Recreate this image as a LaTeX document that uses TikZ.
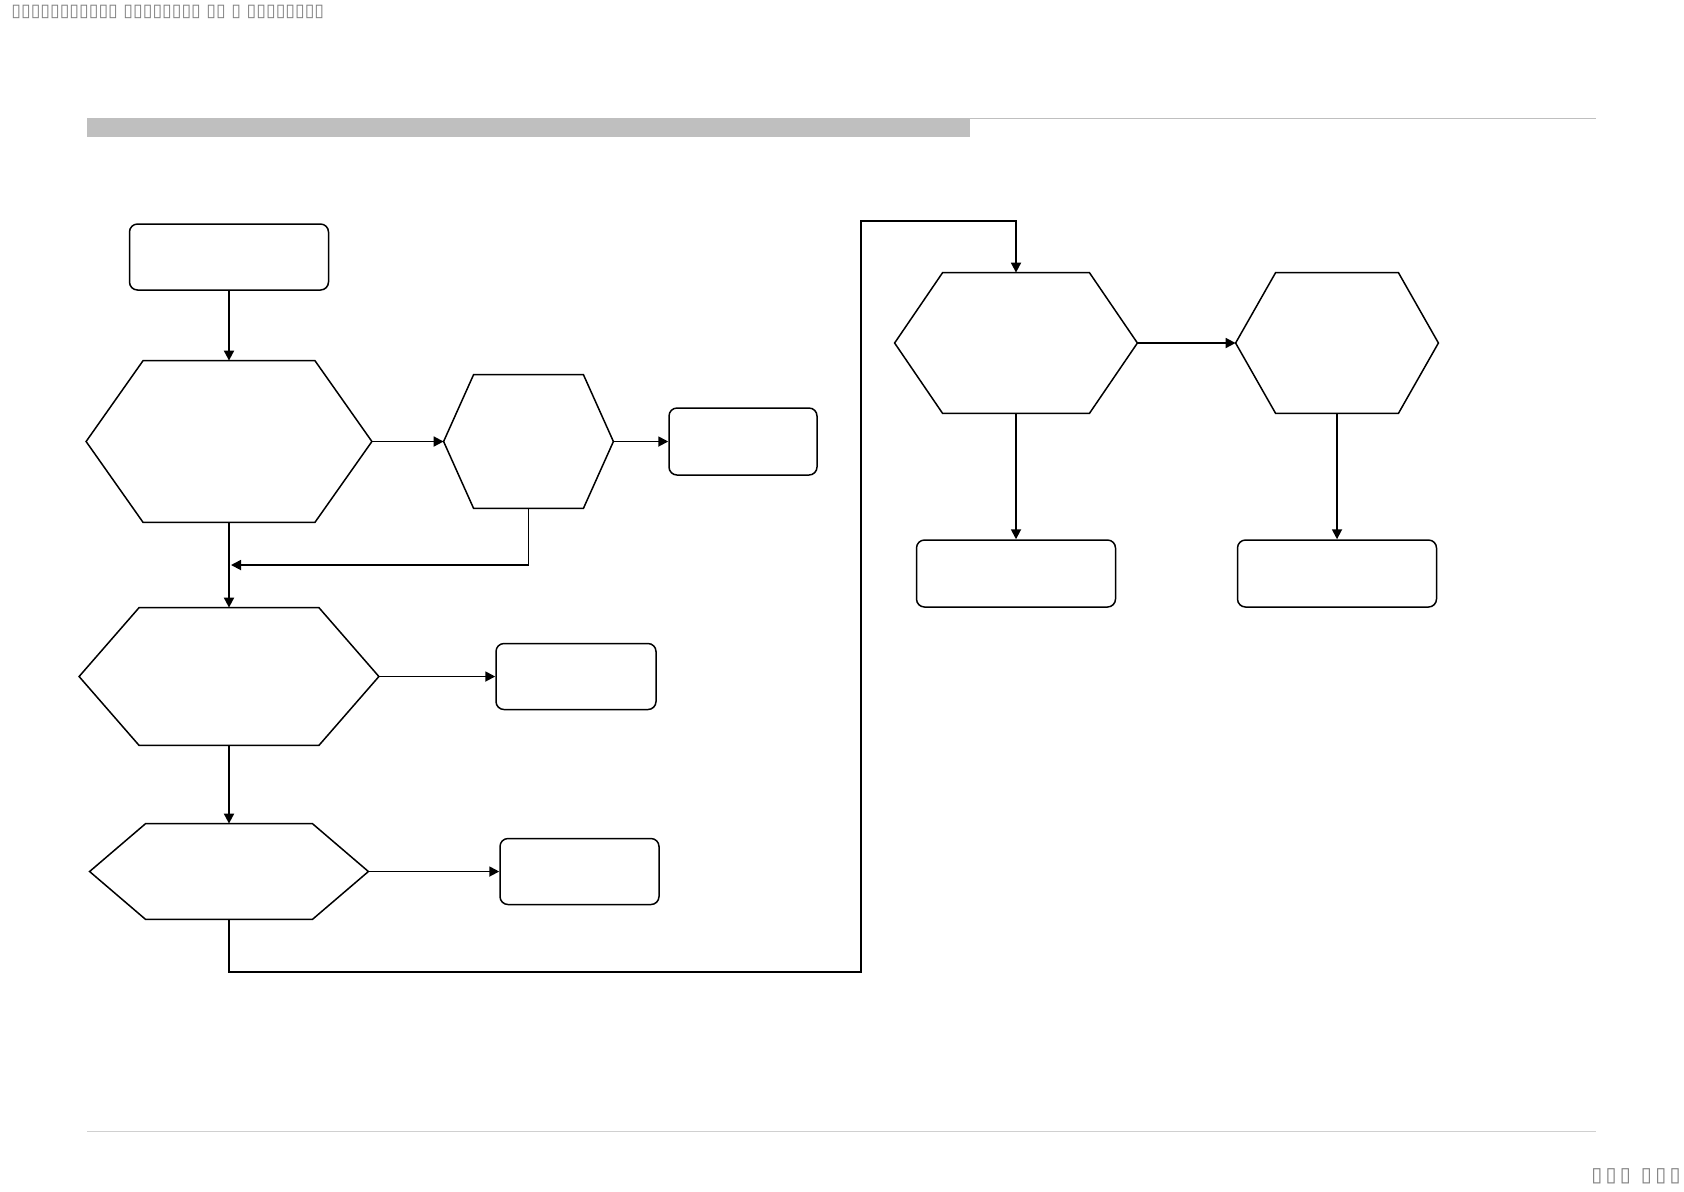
\documentclass[tikz,border=0pt]{standalone}
\usepackage{fontspec}
\setmainfont{Liberation Sans}
\newfontfamily\symfont{DejaVu Sans}
\usetikzlibrary{arrows.meta, positioning}

\definecolor{bargray}{HTML}{BFBFBF}
\definecolor{rulegray}{HTML}{D0D0D0}
\definecolor{tofugray}{HTML}{7F7F7F}

% outline of a hexagon drawn over a named node
\newcommand\hexshape[2]{%
  \draw[hexline] (#1.west) -- ([xshift=#2]#1.north west) -- ([xshift=-#2]#1.north east)
    -- (#1.east) -- ([xshift=-#2]#1.south east) -- ([xshift=#2]#1.south west) -- cycle;}

\begin{document}
\begin{tikzpicture}[
      x=0.5pt, y=-0.5pt,
      box/.style={draw, rounded corners=4pt, line width=0.75pt, inner sep=0pt, minimum height=33pt},
      hexa/.style={inner sep=0pt},
      hexline/.style={line width=0.75pt, line join=miter},
      arr/.style={-{Triangle[length=5pt, width=5pt]}, line width=0.9pt},
      tofu/.style={font=\symfont\fontsize{8.8}{10}\selectfont, text=tofugray, inner sep=0pt}
    ]
      \useasboundingbox (0,0) rectangle (1684,1191);

      % page frame
      \fill[bargray] (87,118) rectangle (970,137);
      \draw[bargray, line width=0.5pt] (970,118.5) -- (1596,118.5);
      \draw[rulegray, line width=0.5pt] (87,1131) -- (1596,1131);
      \node[tofu, anchor=west] (title) at (11,12) {▯▯▯▯▯▯▯▯▯▯▯ ▯▯▯▯▯▯▯▯ ▯▯ ▯ ▯▯▯▯▯▯▯▯};
      \node[tofu, anchor=east, font=\symfont\fontsize{10}{12}\selectfont] (pagenum) at (1681,1176) {▯\,▯\,▯\enspace▯\,▯\,▯};

      % left column
      \node[box, minimum width=99.5pt] (start) at (229,257) {};
      \node[hexa, minimum width=142.5pt, minimum height=80.5pt] (h1) at (229,441.5) {};
      \node[hexa, minimum width=84.5pt, minimum height=66.5pt] (h2) at (528.5,441.5) {};
      \node[box, minimum width=74pt, minimum height=33.5pt] (r2) at (743,441.5) {};
      \node[hexa, minimum width=149.5pt, minimum height=68.5pt] (h3) at (229,676.5) {};
      \node[box, minimum width=80pt] (r3) at (576,676.5) {};
      \node[hexa, minimum width=139pt, minimum height=47.5pt] (h4) at (229,871.5) {};
      \node[box, minimum width=79.5pt] (r4) at (579.5,871.5) {};

      % right part
      \node[hexa, minimum width=121pt, minimum height=70pt] (h5) at (1016,343) {};
      \node[hexa, minimum width=101pt, minimum height=70pt] (h6) at (1337,343) {};
      \node[box, minimum width=99.5pt, minimum height=33.5pt] (r5) at (1016,573.5) {};
      \node[box, minimum width=99.5pt, minimum height=33.5pt] (r6) at (1337,573.5) {};

      \hexshape{h1}{28.5pt}
      \hexshape{h2}{15pt}
      \hexshape{h3}{30pt}
      \hexshape{h4}{28pt}
      \hexshape{h5}{24pt}
      \hexshape{h6}{20pt}

      \coordinate (merge) at (231,565);
      \coordinate (loopbot) at (861,972);
      \coordinate (looptop) at (861,221);

      \draw[arr] (start.south) -- (h1.north);
      \draw[arr] (h1.east) -- (h2.west);
      \draw[arr] (h2.east) -- (r2.west);
      \draw[arr] (h1.south) -- (h3.north);
      \draw[arr] (h2.south) |- (merge);
      \draw[arr] (h3.east) -- (r3.west);
      \draw[arr] (h3.south) -- (h4.north);
      \draw[arr] (h4.east) -- (r4.west);
      \draw[arr] (h4.south) |- (loopbot) -- (looptop) -| (h5.north);
      \draw[arr] (h5.east) -- (h6.west);
      \draw[arr] (h5.south) -- (r5.north);
      \draw[arr] (h6.south) -- (r6.north);
    \end{tikzpicture}
\end{document}
